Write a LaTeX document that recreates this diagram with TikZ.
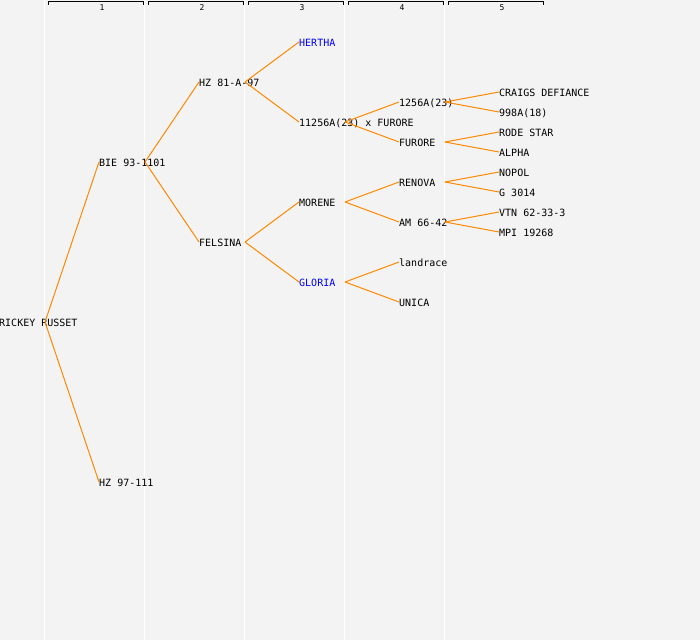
\documentclass[tikz,border=0pt]{standalone}
\usepackage{fontspec}
\setmonofont{DejaVu Sans Mono}
\usepackage{tikz}
\tikzset{
    pnode/.style={anchor=west,inner sep=0pt,text height=8pt,text depth=0pt,font=\ttfamily\fontsize{10}{10}\selectfont},
    hl/.style={text=hlblue},
    link/.style={draw=linkorange,line width=1pt},
    colline/.style={draw=white,line width=1.2pt},
    hdr/.style={inner sep=0pt,font=\ttfamily\fontsize{8}{8}\selectfont},
    pedigree/.style={
        x=1pt,y=-1pt,
        every node/.style=pnode,
        every edge/.style=link,
    }
}
\definecolor{linkorange}{RGB}{255,136,0}
\definecolor{hlblue}{RGB}{0,0,255}
\definecolor{bgcol}{RGB}{243,243,243}

\begin{document}
\begin{tikzpicture}[pedigree]
\fill[bgcol] (0,0) rectangle (700,640);
\useasboundingbox (0,0) rectangle (700,640);
\foreach \c in {1,...,5}{
    \draw[colline] ({100*\c-55.5},0) -- ({100*\c-55.5},640);
    \draw[black,line width=1pt] ({100*\c-52},4.5) -- ({100*\c-52},1.5) -- ({100*\c+43},1.5) -- ({100*\c+43},4.5);
    \node[hdr,anchor=center] (h\c) at ({100*\c+2},6.5) {\c};
}
% generations
\node (rr)    at (-1,322)  {RICKEY RUSSET};
\node (bie)   at (99,162)  {BIE 93-1101};
\node (hz97)  at (99,482)  {HZ 97-111};
\node (hz81)  at (199,82)  {HZ 81-A-97};
\node (fel)   at (199,242) {FELSINA};
\node[hl] (her) at (299,42) {HERTHA};
\node (cross) at (299,122) {11256A(23) x FURORE};
\node (mor)   at (299,202) {MORENE};
\node[hl] (glo) at (299,282) {GLORIA};
\node (a1256) at (399,102) {1256A(23)};
\node (fur)   at (399,142) {FURORE};
\node (ren)   at (399,182) {RENOVA};
\node (am)    at (399,222) {AM 66-42};
\node (lan)   at (399,262) {landrace};
\node (uni)   at (399,302) {UNICA};
\node (cd)    at (499,92)  {CRAIGS DEFIANCE};
\node (a998)  at (499,112) {998A(18)};
\node (rs)    at (499,132) {RODE STAR};
\node (alp)   at (499,152) {ALPHA};
\node (nop)   at (499,172) {NOPOL};
\node (g30)   at (499,192) {G 3014};
\node (vtn)   at (499,212) {VTN 62-33-3};
\node (mpi)   at (499,232) {MPI 19268};
\path
    ([xshift=46pt]rr.west)    edge (bie.west)  edge (hz97.west)
    ([xshift=46pt]bie.west)   edge (hz81.west) edge (fel.west)
    ([xshift=46pt]hz81.west)  edge (her.west)  edge (cross.west)
    ([xshift=46pt]fel.west)   edge (mor.west)  edge (glo.west)
    ([xshift=46pt]cross.west) edge (a1256.west) edge (fur.west)
    ([xshift=46pt]mor.west)   edge (ren.west)  edge (am.west)
    ([xshift=46pt]glo.west)   edge (lan.west)  edge (uni.west)
    ([xshift=46pt]a1256.west) edge (cd.west)   edge (a998.west)
    ([xshift=46pt]fur.west)   edge (rs.west)   edge (alp.west)
    ([xshift=46pt]ren.west)   edge (nop.west)  edge (g30.west)
    ([xshift=46pt]am.west)    edge (vtn.west)  edge (mpi.west)
;
\end{tikzpicture}
\end{document}
